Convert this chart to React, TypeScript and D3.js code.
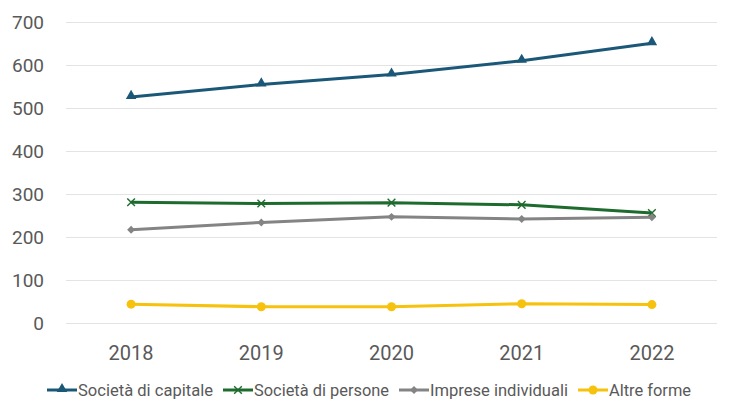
import { useEffect, useRef } from 'react'
import * as d3 from 'd3'

const years = ['2018', '2019', '2020', '2021', '2022']
const yTicks = [0, 100, 200, 300, 400, 500, 600, 700]

const capitale = [527, 556, 579, 611, 652]
const persone = [282, 279, 281, 276, 257]
const imprese = [218, 235, 248, 243, 247]
const altre = [45, 39, 39, 46, 44]

const seriesNames = ['Società di capitale', 'Società di persone', 'Imprese individuali', 'Altre forme']

interface Series {
  name: string
  values: number[]
  color: string
  marker: 'triangle' | 'cross' | 'diamond' | 'circle'
}

const series: Series[] = [
  { name: seriesNames[0], values: capitale, color: '#1b5878', marker: 'triangle' },
  { name: seriesNames[1], values: persone, color: '#1e6b2e', marker: 'cross' },
  { name: seriesNames[2], values: imprese, color: '#848484', marker: 'diamond' },
  { name: seriesNames[3], values: altre, color: '#f7c20d', marker: 'circle' },
]

const legendTextWidth = [135, 135, 138, 82]

function drawMarker(
  g: d3.Selection<SVGGElement, unknown, null, undefined>,
  kind: Series['marker'],
  cx: number,
  cy: number,
  color: string,
) {
  if (kind === 'triangle') {
    g.append('path')
      .attr('d', d3.symbol(d3.symbolTriangle, 48)())
      .attr('transform', `translate(${cx},${cy - 1})`)
      .attr('fill', color)
  } else if (kind === 'cross') {
    g.append('path')
      .attr('d', d3.symbol(d3.symbolX, 40)())
      .attr('transform', `translate(${cx},${cy})`)
      .attr('fill', 'none')
      .attr('stroke', color)
      .attr('stroke-width', 1.4)
  } else if (kind === 'diamond') {
    g.append('path')
      .attr('d', d3.symbol(d3.symbolDiamond2, 40)())
      .attr('transform', `translate(${cx},${cy})`)
      .attr('fill', color)
  } else {
    g.append('circle')
      .attr('cx', cx)
      .attr('cy', cy)
      .attr('r', 4.5)
      .attr('fill', color)
  }
}

export default function App() {
  const svgRef = useRef<SVGSVGElement>(null)
  const width = 735
  const height = 417

  useEffect(() => {
    document.body.style.margin = '0'
    if (!svgRef.current) return
    const svg = d3.select(svgRef.current)
    svg.selectAll('*').remove()

    const x = d3.scaleBand<string>().domain(years).range([66, 717]).padding(0)
    const y = d3.scaleLinear().domain([0, 700]).range([323.5, 22.5])
    const xc = (d: string) => (x(d) ?? 0) + x.bandwidth() / 2

    const g = svg.append('g') as d3.Selection<SVGGElement, unknown, null, undefined>

    // gridlines
    g.selectAll('line.grid')
      .data(yTicks)
      .enter()
      .append('line')
      .attr('x1', 66)
      .attr('x2', 717)
      .attr('y1', (d) => y(d))
      .attr('y2', (d) => y(d))
      .attr('stroke', '#e3e3e3')
      .attr('stroke-width', 1)

    // y labels
    g.selectAll('text.ylab')
      .data(yTicks)
      .enter()
      .append('text')
      .attr('x', 44)
      .attr('y', (d) => y(d))
      .attr('dy', '0.35em')
      .attr('text-anchor', 'end')
      .attr('fill', '#595959')
      .style('font-family', 'Roboto, "Liberation Sans", Arial, sans-serif')
      .style('font-size', '19px')
      .text((d) => String(d))

    // x labels
    g.selectAll('text.xlab')
      .data(years)
      .enter()
      .append('text')
      .attr('x', (d) => xc(d))
      .attr('y', 353)
      .attr('dy', '0.35em')
      .attr('text-anchor', 'middle')
      .attr('fill', '#595959')
      .style('font-family', 'Roboto, "Liberation Sans", Arial, sans-serif')
      .style('font-size', '20px')
      .text((d) => d)

    const line = d3
      .line<number>()
      .x((_, i) => xc(years[i]))
      .y((d) => y(d))

    series.forEach((s) => {
      g.append('path')
        .datum(s.values)
        .attr('fill', 'none')
        .attr('stroke', s.color)
        .attr('stroke-width', 3)
        .attr('stroke-linejoin', 'round')
        .attr('d', line)
      s.values.forEach((v, i) => drawMarker(g, s.marker, xc(years[i]), y(v), s.color))
    })

    // legend
    let lx = 47
    const ly = 390
    series.forEach((s, i) => {
      g.append('line')
        .attr('x1', lx)
        .attr('x2', lx + 30)
        .attr('y1', ly)
        .attr('y2', ly)
        .attr('stroke', s.color)
        .attr('stroke-width', 3)
      drawMarker(g, s.marker, lx + 15, ly, s.color)
      g.append('text')
        .attr('x', lx + 31)
        .attr('y', ly)
        .attr('dy', '0.35em')
        .attr('fill', '#595959')
        .attr('textLength', legendTextWidth[i])
        .attr('lengthAdjust', 'spacingAndGlyphs')
        .style('font-family', 'Roboto, "Liberation Sans", Arial, sans-serif')
        .style('font-size', '17px')
        .text(s.name)
      lx += 31 + legendTextWidth[i] + 10
    })
  }, [])

  return <svg ref={svgRef} width={width} height={height} style={{ display: 'block', background: '#fff' }} />
}
